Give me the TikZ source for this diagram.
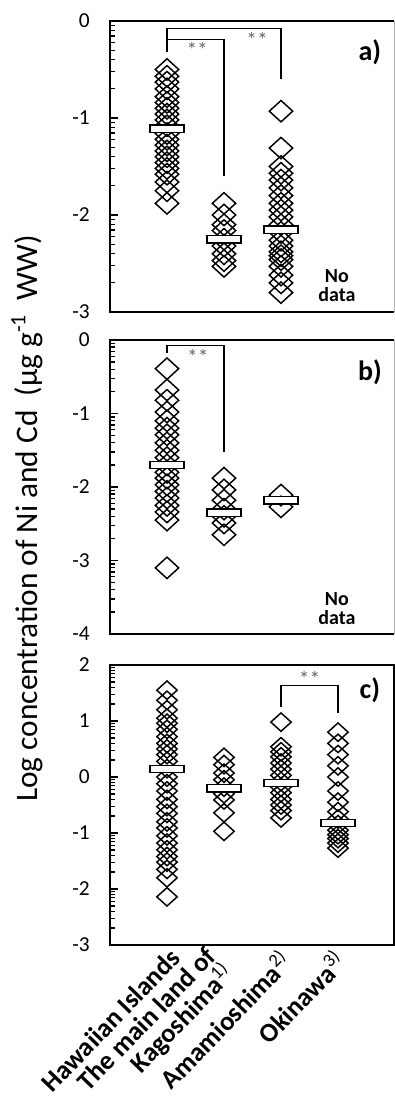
\documentclass[tikz,border=0pt]{standalone}
\usepackage{fontspec}
\setmainfont{Carlito}
\usetikzlibrary{shapes.geometric, positioning}

\tikzset{
  dia/.style={diamond, draw, line width=1.1pt, inner sep=0, minimum width=18pt, minimum height=16.5pt},
  avg/.style={draw, fill=white, line width=1pt, inner sep=0, minimum width=25.5pt, minimum height=5.5pt},
  axis/.style={line width=1.8pt},
  tick/.style={line width=1pt},
  brk/.style={line width=0.9pt},
  star/.style={font=\fontsize{16}{16}\selectfont, text=black!60},
  tlab/.style={anchor=east, inner sep=0, font=\fontsize{16}{16}\selectfont},
  plab/.style={font=\bfseries\fontsize{21}{21}\selectfont},
  nod/.style={align=center, font=\bfseries\fontsize{15}{14}\selectfont},
  xlab/.style={anchor=east, rotate=46, align=right, inner sep=1pt, font=\bfseries\fontsize{20}{15}\selectfont},
}

\begin{document}
\begin{tikzpicture}[x=0.75pt, y=0.75pt]
\useasboundingbox (0,0) rectangle (395,1102);

\node[rotate=90, anchor=west, inner sep=0, font=\fontsize{23.5}{23.5}\selectfont] (ylab) at (27,300)
  {Log concentration of Ni and Cd\ \ (µg g\textsuperscript{-1}\ \ WW)};

% a)
\begin{scope}[shift={(110,1081)}, x=42.75pt, y=72.75pt]
\draw[gray!60, thin] (4.98,0) -- (4.98,-3);
\draw[axis] (4.98,0) -- (0,0) -- (0,-3) -- (4.98,-3);
\foreach \n in {-3,-2,-1}
  \foreach \k in {2,...,9}
    \draw[tick] (0,{\n+log10(\k)}) -- ++(4pt,0);
\foreach \v in {0,-1,-2,-3} {
  \draw[tick] (0,\v) -- ++(6pt,0);
  \node[tlab] (a-t\v) at ([xshift=-15pt]0,\v) {\v};
}
\foreach \v [count=\k] in {-0.5,-0.57,-0.63,-0.7,-0.78,-0.84,-0.9,-0.96,-1.02,-1.08,-1.16,-1.22,-1.28,-1.34,-1.4,-1.46,-1.52,-1.58,-1.66,-1.75,-1.88}
  \node[dia] (a1-\k) at (1,\v) {};
\foreach \v [count=\k] in {-1.88,-2.0,-2.1,-2.16,-2.25,-2.32,-2.4,-2.47,-2.53}
  \node[dia] (a2-\k) at (2,\v) {};
\foreach \v [count=\k] in {-0.93,-1.31,-1.5,-1.57,-1.64,-1.72,-1.8,-1.88,-1.95,-2.02,-2.1,-2.18,-2.26,-2.32,-2.38,-2.42,-2.46,-2.53,-2.62,-2.7,-2.8}
  \node[dia] (a3-\k) at (3,\v) {};
\node[avg] (a1m) at (1,-1.11) {};
\node[avg] (a2m) at (2,-2.25) {};
\node[avg] (a3m) at (3,-2.15) {};
\coordinate (a-l1) at (1,-0.32);
\coordinate (a-r1) at (3,-0.6);
\coordinate (a-r2) at (2,-1.6);
\coordinate (a-h1) at (2,-0.08);
\coordinate (a-h2) at (1.5,-0.19);
\draw[brk] (a-l1) |- (a-h1) -| (a-r1);
\draw[brk] (a-l1 |- a-h2) -| (a-r2);
\node[star] (a-s1) at (2.58,-0.2) {**};
\node[star] (a-s2) at (1.53,-0.3) {**};
\node[plab] (a-lab) at (4.56,-0.32) {a)};
\node[nod] (a-nd) at (3.98,-2.73) {No\\data};
\end{scope}

% b)
\begin{scope}[shift={(110,762)}, x=42.75pt, y=55.125pt]
\draw[gray!60, thin] (4.98,0) -- (4.98,-4);
\draw[axis] (4.98,0) -- (0,0) -- (0,-4) -- (4.98,-4);
\foreach \n in {-4,-3,-2,-1}
  \foreach \k in {2,...,9}
    \draw[tick] (0,{\n+log10(\k)}) -- ++(4pt,0);
\foreach \v in {0,-1,-2,-3,-4} {
  \draw[tick] (0,\v) -- ++(6pt,0);
  \node[tlab] (b-t\v) at ([xshift=-15pt]0,\v) {\v};
}
\foreach \v [count=\k] in {-0.39,-0.68,-0.82,-0.98,-1.1,-1.2,-1.29,-1.4,-1.5,-1.6,-1.7,-1.8,-1.88,-1.97,-2.06,-2.15,-2.25,-2.34,-2.45,-3.1}
  \node[dia] (b1-\k) at (1,\v) {};
\foreach \v [count=\k] in {-1.88,-2.04,-2.18,-2.3,-2.4,-2.49,-2.65}
  \node[dia] (b2-\k) at (2,\v) {};
\foreach \v [count=\k] in {-2.11,-2.27}
  \node[dia] (b3-\k) at (3,\v) {};
\node[avg] (b1m) at (1,-1.7) {};
\node[avg] (b2m) at (2,-2.35) {};
\node[avg] (b3m) at (3,-2.18) {};
\coordinate (b-l1) at (1,-0.18);
\coordinate (b-r1) at (2,-1.52);
\coordinate (b-h1) at (1.5,-0.07);
\draw[brk] (b-l1) |- (b-h1) -| (b-r1);
\node[star] (b-s1) at (1.54,-0.23) {**};
\node[plab] (b-lab) at (4.56,-0.44) {b)};
\node[nod] (b-nd) at (3.98,-3.65) {No\\data};
\end{scope}

% c)
\begin{scope}[shift={(110,325)}, x=42.75pt, y=42pt]
\draw[axis] (4.98,2) -- (0,2) -- (0,-3) -- (4.98,-3) -- cycle;
\foreach \n in {-3,...,1}
  \foreach \k in {2,...,9}
    \draw[tick] (0,{\n+log10(\k)}) -- ++(4pt,0);
\foreach \v in {2,1,0,-1,-2,-3} {
  \draw[tick] (0,\v) -- ++(6pt,0);
  \node[tlab] (c-t\v) at ([xshift=-15pt]0,\v) {\v};
}
\foreach \v [count=\k] in {1.55,1.37,1.2,1.05,0.96,0.85,0.72,0.6,0.5,0.4,0.28,0.15,0,-0.12,-0.25,-0.4,-0.53,-0.65,-0.8,-0.91,-1.05,-1.18,-1.3,-1.42,-1.52,-1.65,-1.8,-2.14}
  \node[dia, minimum width=15.75pt, minimum height=14.25pt] (c1-\k) at (1,\v) {};
\foreach \v [count=\k] in {0.35,0.22,0.07,-0.05,-0.18,-0.3,-0.41,-0.64,-0.97}
  \node[dia, minimum width=15.75pt, minimum height=14.25pt] (c2-\k) at (2,\v) {};
\foreach \v [count=\k] in {0.98,0.54,0.45,0.36,0.25,0.14,0.03,-0.08,-0.18,-0.28,-0.4,-0.5,-0.6,-0.73}
  \node[dia, minimum width=15.75pt, minimum height=14.25pt] (c3-\k) at (3,\v) {};
\foreach \v [count=\k] in {0.8,0.6,0.4,0.2,0.0,-0.25,-0.45,-0.62,-0.75,-0.85,-0.95,-1.03,-1.1,-1.18,-1.27}
  \node[dia, minimum width=15.75pt, minimum height=14.25pt] (c4-\k) at (4,\v) {};
\node[avg] (c1m) at (1,0.14) {};
\node[avg] (c2m) at (2,-0.2) {};
\node[avg] (c3m) at (3,-0.11) {};
\node[avg] (c4m) at (4,-0.82) {};
\coordinate (c-l1) at (3,1.25);
\coordinate (c-r1) at (4,1.14);
\coordinate (c-h1) at (3.5,1.64);
\draw[brk] (c-l1) |- (c-h1) -| (c-r1);
\node[star] (c-s1) at (3.5,1.75) {**};
\node[plab] (c-lab) at (4.56,1.55) {c)};
% category names
\node[xlab] (x1) at (1.16,-3.13) {Hawaiian Islands};
\node[xlab] (x2) at (1.98,-3.29) {The main land of\\Kagoshima\textsuperscript{\mdseries 1)}};
\node[xlab] (x3) at (3.1,-3.18) {Amamioshima\textsuperscript{\mdseries 2)}};
\node[xlab] (x4) at (4.05,-3.18) {Okinawa\textsuperscript{\mdseries 3)}};
\end{scope}
\end{tikzpicture}
\end{document}
